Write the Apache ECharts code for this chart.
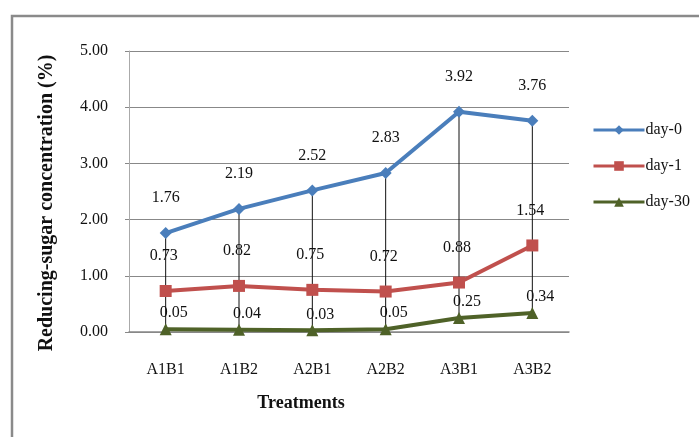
<!DOCTYPE html>
<html>
<head>
<meta charset="utf-8">
<script src="https://cdn.jsdelivr.net/npm/echarts@6/dist/echarts.min.js"></script>
<style>
  html, body { margin: 0; padding: 0; background: #fff; }
  #chart { width: 699px; height: 437px; }
</style>
</head>
<body>
<div id="chart"></div>
<script>
// treatments on the x axis
var categories = ['A1B1', 'A1B2', 'A2B1', 'A2B2', 'A3B1', 'A3B2'];
var day0 = [1.76, 2.19, 2.52, 2.83, 3.92, 3.76];
var day1 = [0.73, 0.82, 0.75, 0.72, 0.88, 1.54];
var day30 = [0.05, 0.04, 0.03, 0.05, 0.25, 0.34];
var yTicks = [0, 1, 2, 3, 4, 5];

var serif = '"Liberation Serif", "Times New Roman", serif';

// high-low lines like excel: one row per category
var hiLo = categories.map(function(c, i) {
  var v = [day0[i], day1[i], day30[i]];
  return [i, Math.max.apply(null, v), Math.min.apply(null, v)];
});

function lineSeries(name, data, color, symbol, size, dist, offset) {
  return {
    name: name,
    type: 'line',
    data: data,
    symbol: symbol,
    symbolSize: size,
    z: 3,
    lineStyle: { color: color, width: 4 },
    itemStyle: { color: color },
    label: {
      show: true,
      position: 'top',
      distance: dist,
      offset: offset,
      color: '#111',
      fontFamily: serif,
      fontSize: 16,
      formatter: function(p) { return p.value.toFixed(2); }
    }
  };
}

var chart = echarts.init(document.getElementById('chart'));
chart.setOption({
  backgroundColor: '#fff',
  animation: false,
  grid: { left: 129, right: 130, top: 51, bottom: 105 },
  legend: {
    data: ['day-0', 'day-1', 'day-30'],
    orient: 'vertical',
    left: 587,
    top: 117,
    itemWidth: 51,
    itemHeight: 12,
    itemGap: 20,
    lineStyle: { width: 3 },
    textStyle: { fontFamily: serif, fontSize: 16, color: '#111', padding: [0, 0, 0, -4] }
  },
  xAxis: {
    type: 'category',
    data: categories,
    boundaryGap: true,
    axisLine: { lineStyle: { color: '#888', width: 1.5 } },
    axisTick: { show: false },
    axisLabel: { margin: 30, fontFamily: serif, fontSize: 16, color: '#111' }
  },
  yAxis: {
    type: 'value',
    min: yTicks[0],
    max: yTicks[yTicks.length - 1],
    interval: 1,
    axisLine: { show: true, lineStyle: { color: '#aaa', width: 1 } },
    axisTick: { show: true, length: 4, lineStyle: { color: '#888' } },
    splitLine: { lineStyle: { color: '#888', width: 1 } },
    axisLabel: {
      margin: 21,
      fontFamily: serif,
      fontSize: 16,
      color: '#111',
      formatter: function(v) { return v.toFixed(2); }
    }
  },
  series: [
    {
      type: 'custom',
      name: 'hilo',
      data: hiLo,
      z: 1,
      silent: true,
      renderItem: function(params, api) {
        var top = api.coord([api.value(0), api.value(1)]);
        var bot = api.coord([api.value(0), api.value(2)]);
        return {
          type: 'line',
          shape: { x1: top[0], y1: top[1], x2: bot[0], y2: bot[1] },
          style: { stroke: '#111', lineWidth: 1 }
        };
      }
    },
    lineSeries('day-0', day0, '#4A7EBB', 'diamond', 12, 21, [0, 0]),
    lineSeries('day-1', day1, '#C0504D', 'rect', 12, 21, [-2, 0]),
    lineSeries('day-30', day30, '#4F6228', 'triangle', 12, 2, [8, 0])
  ],
  graphic: [
    {
      type: 'rect',
      shape: { x: 12, y: 16, width: 720, height: 460 },
      style: { fill: null, stroke: '#8a8a8a', lineWidth: 2.5 },
      silent: true
    },
    {
      type: 'text',
      x: 47,
      y: 203,
      rotation: Math.PI / 2,
      style: {
        text: 'Reducing-sugar concentration (%)',
        font: 'bold 20px ' + serif,
        fill: '#111',
        align: 'center',
        verticalAlign: 'middle'
      }
    },
    {
      type: 'text',
      x: 301,
      y: 403,
      style: {
        text: 'Treatments',
        font: 'bold 18px ' + serif,
        fill: '#111',
        align: 'center',
        verticalAlign: 'middle'
      }
    }
  ]
});
</script>
</body>
</html>
